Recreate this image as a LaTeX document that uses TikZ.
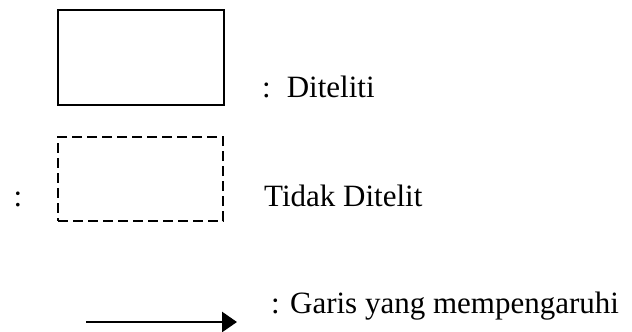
\documentclass[tikz,border=0pt]{standalone}
\usepackage{fontspec}
\setmainfont{Liberation Serif}
\usetikzlibrary{arrows.meta}
\tikzset{
  legendtext/.style={inner sep=0pt, anchor=base west, font=\fontsize{31}{37}\selectfont},
  solidbox/.style={draw, line width=1.5pt, minimum width=166pt, minimum height=95pt, inner sep=0pt},
  dashbox/.style={draw, line width=1.3pt, dash pattern=on 10pt off 5pt, minimum width=165pt, minimum height=84pt, inner sep=0pt},
  influence/.style={line width=2.7pt, -{Triangle[length=15pt,width=20pt]}}
}
\begin{document}
\begin{tikzpicture}[x=1pt,y=-1pt]
  \useasboundingbox (0,0) rectangle (632,332);
  % examined variable
  \node[solidbox] (diteliti) at (141,57.5) {};
  \node[legendtext] (lbl1) at (262,97) {:\hspace{16pt}Diteliti};
  % variable not examined
  \node[dashbox] (tidak) at (140.5,179) {};
  \node[legendtext] (colon2) at (13.5,206) {:};
  \node[legendtext] (lbl2) at (264,206) {Tidak Ditelit};
  % influence arrow
  \coordinate (arrA) at (86,322);
  \coordinate (arrB) at (237,322);
  \draw[influence] (arrA) -- (arrB);
  \node[legendtext] (lbl3) at (271,313) {: Garis yang mempengaruhi};
\end{tikzpicture}
\end{document}
